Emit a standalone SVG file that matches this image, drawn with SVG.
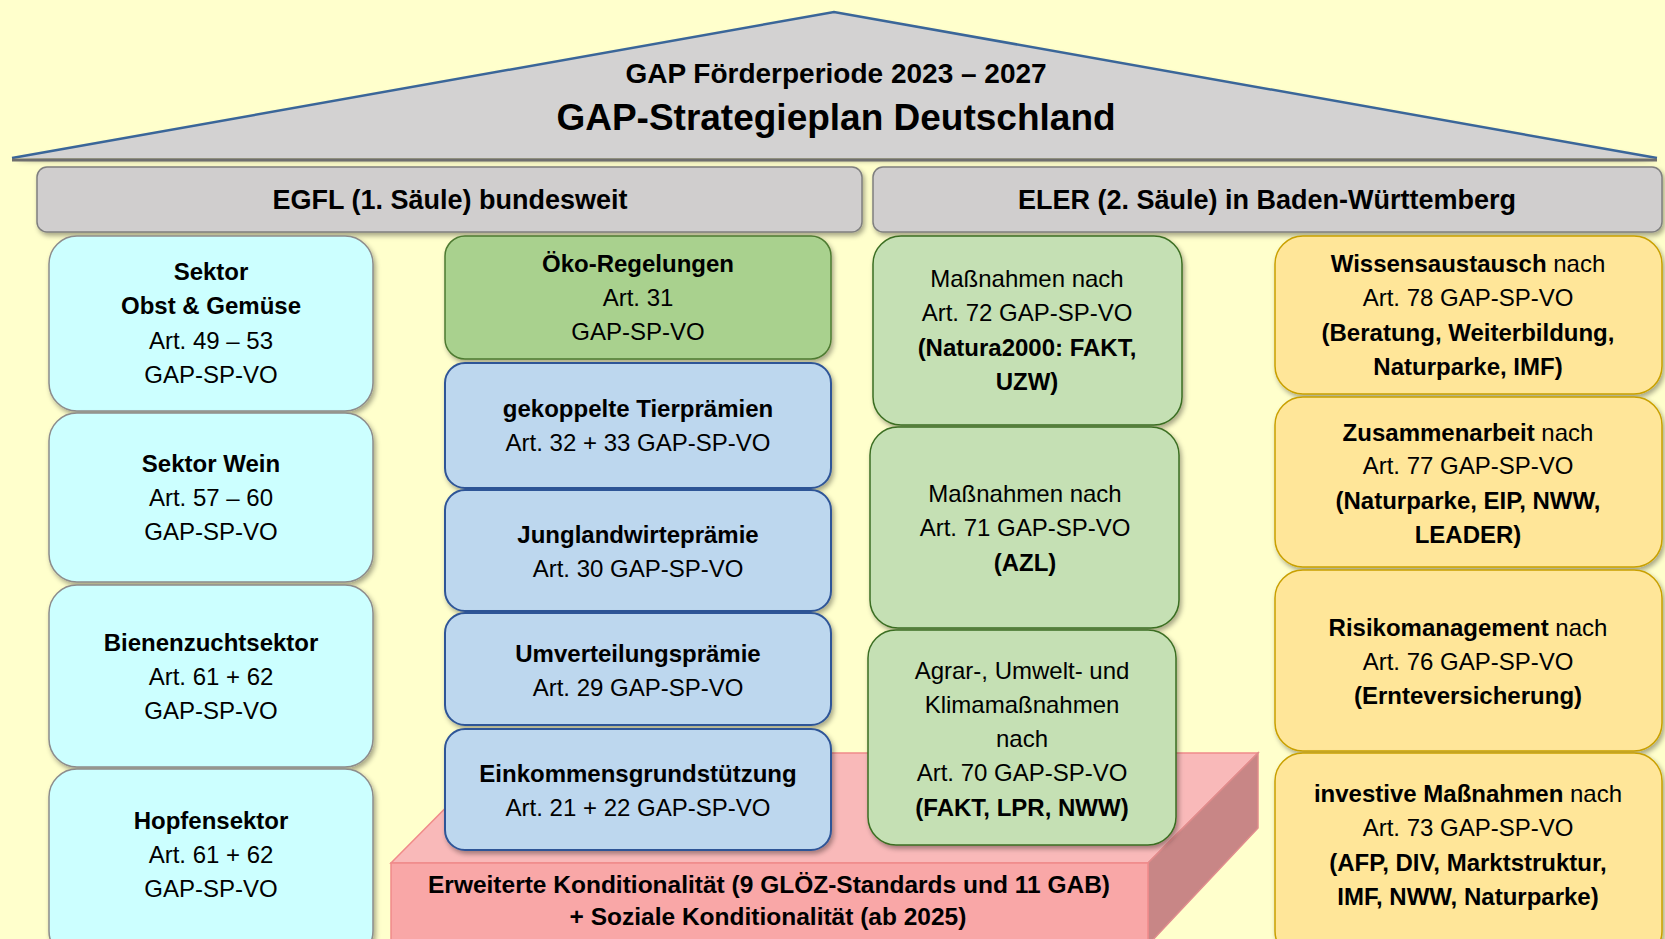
<svg xmlns="http://www.w3.org/2000/svg" width="1665" height="939" viewBox="0 0 1665 939">
<style>
text{font-family:"Liberation Sans",Arial,sans-serif;fill:#000;text-anchor:middle}
.r{font-size:24px}
.b{font-size:24px;font-weight:bold}
.bb{font-weight:bold}
.hdr{font-size:27px;font-weight:bold}
.slab{font-size:24.5px;font-weight:bold}
.cyan{fill:#CCFFFF;stroke:#8C8C8C;stroke-width:1.5}
.eco{fill:#A9D18E;stroke:#4E7A30;stroke-width:1.5}
.blue{fill:#BDD7EE;stroke:#2F5597;stroke-width:2}
.lg{fill:#C5E0B4;stroke:#3B6E22;stroke-width:1.5}
.yel{fill:#FFE699;stroke:#C9A000;stroke-width:1.5}
.gray{fill:#D0CECE;stroke:#7F7F7F;stroke-width:1.5}
</style>
<defs>
<filter id="sh" x="-10%" y="-10%" width="125%" height="130%">
<feDropShadow dx="2" dy="3" stdDeviation="2.5" flood-color="#000" flood-opacity="0.35"/>
</filter>
</defs>
<rect x="0" y="0" width="1665" height="939" fill="#FFFFCC"/>

<g id="roof">
<polygon points="12,158 834,12 1657,158" fill="#D3D2D2" filter="url(#sh)"/>
<polyline points="12,158 834,12 1657,158" fill="none" stroke="#3A6699" stroke-width="2.5"/>
<line x1="12" y1="160" x2="1657" y2="160" stroke="#6E6E6E" stroke-width="3"/>
<text x="836" y="83" style="font-size:28px;font-weight:bold">GAP Förderperiode 2023 – 2027</text>
<text x="836" y="130" style="font-size:37px;font-weight:bold">GAP-Strategieplan Deutschland</text>
</g>

<g id="egfl-header">
<rect class="gray" x="37" y="167" width="825" height="65" rx="10" filter="url(#sh)"/>
<text class="hdr" x="450" y="209">EGFL (1. Säule) bundesweit</text>
</g>
<g id="eler-header">
<rect class="gray" x="873" y="167" width="789" height="65" rx="10" filter="url(#sh)"/>
<text class="hdr" x="1267" y="209">ELER (2. Säule) in Baden-Württemberg</text>
</g>

<g id="slab">
<polygon points="391,863 1148,863 1258,753 500,753" fill="#F9B9B9" stroke="#F08A8A" stroke-width="1.5"/>
<polygon points="1148,863 1258,753 1258,828 1148,945" fill="#C88686" stroke="#E08C8C" stroke-width="1.5"/>
<rect x="391" y="863" width="757" height="82" fill="#F9A7A7" stroke="#F08A8A" stroke-width="1.5"/>
<text class="slab" x="769" y="893">Erweiterte Konditionalität (9 GLÖZ-Standards und 11 GAB)</text>
<text class="slab" x="768" y="925">+ Soziale Konditionalität (ab 2025)</text>
</g>

<g id="obst">
<rect class="cyan" x="49" y="236" width="324" height="175" rx="28" filter="url(#sh)"/>
<text class="b" x="211" y="280">Sektor</text>
<text class="b" x="211" y="314">Obst &amp; Gemüse</text>
<text class="r" x="211" y="349">Art. 49 – 53</text>
<text class="r" x="211" y="383">GAP-SP-VO</text>
</g>
<g id="wein">
<rect class="cyan" x="49" y="413" width="324" height="169" rx="28" filter="url(#sh)"/>
<text class="b" x="211" y="472">Sektor Wein</text>
<text class="r" x="211" y="506">Art. 57 – 60</text>
<text class="r" x="211" y="540">GAP-SP-VO</text>
</g>
<g id="biene">
<rect class="cyan" x="49" y="585" width="324" height="182" rx="28" filter="url(#sh)"/>
<text class="b" x="211" y="651">Bienenzuchtsektor</text>
<text class="r" x="211" y="685">Art. 61 + 62</text>
<text class="r" x="211" y="719">GAP-SP-VO</text>
</g>
<g id="hopfen">
<rect class="cyan" x="49" y="769" width="324" height="190" rx="28" filter="url(#sh)"/>
<text class="b" x="211" y="829">Hopfensektor</text>
<text class="r" x="211" y="863">Art. 61 + 62</text>
<text class="r" x="211" y="897">GAP-SP-VO</text>
</g>

<g id="oeko">
<rect class="eco" x="445" y="236" width="386" height="123" rx="20" filter="url(#sh)"/>
<text class="b" x="638" y="272">Öko-Regelungen</text>
<text class="r" x="638" y="306">Art. 31</text>
<text class="r" x="638" y="340">GAP-SP-VO</text>
</g>
<g id="tier">
<rect class="blue" x="445" y="363" width="386" height="125" rx="20" filter="url(#sh)"/>
<text class="b" x="638" y="417">gekoppelte Tierprämien</text>
<text class="r" x="638" y="451">Art. 32 + 33 GAP-SP-VO</text>
</g>
<g id="jung">
<rect class="blue" x="445" y="490" width="386" height="121" rx="20" filter="url(#sh)"/>
<text class="b" x="638" y="543">Junglandwirteprämie</text>
<text class="r" x="638" y="577">Art. 30 GAP-SP-VO</text>
</g>
<g id="umv">
<rect class="blue" x="445" y="613" width="386" height="112" rx="20" filter="url(#sh)"/>
<text class="b" x="638" y="662">Umverteilungsprämie</text>
<text class="r" x="638" y="696">Art. 29 GAP-SP-VO</text>
</g>
<g id="eink">
<rect class="blue" x="445" y="729" width="386" height="121" rx="20" filter="url(#sh)"/>
<text class="b" x="638" y="782">Einkommensgrundstützung</text>
<text class="r" x="638" y="816">Art. 21 + 22 GAP-SP-VO</text>
</g>

<g id="art72">
<rect class="lg" x="873" y="236" width="309" height="189" rx="28" filter="url(#sh)"/>
<text class="r" x="1027" y="287">Maßnahmen nach</text>
<text class="r" x="1027" y="321">Art. 72 GAP-SP-VO</text>
<text class="b" x="1027" y="356">(Natura2000: FAKT,</text>
<text class="b" x="1027" y="390">UZW)</text>
</g>
<g id="art71">
<rect class="lg" x="870" y="427" width="309" height="201" rx="28" filter="url(#sh)"/>
<text class="r" x="1025" y="502">Maßnahmen nach</text>
<text class="r" x="1025" y="536">Art. 71 GAP-SP-VO</text>
<text class="b" x="1025" y="571">(AZL)</text>
</g>
<g id="art70">
<rect class="lg" x="868" y="630" width="308" height="215" rx="28" filter="url(#sh)"/>
<text class="r" x="1022" y="679">Agrar-, Umwelt- und</text>
<text class="r" x="1022" y="713">Klimamaßnahmen</text>
<text class="r" x="1022" y="747">nach</text>
<text class="r" x="1022" y="781">Art. 70 GAP-SP-VO</text>
<text class="b" x="1022" y="816">(FAKT, LPR, NWW)</text>
</g>

<g id="wissen">
<rect class="yel" x="1275" y="236" width="387" height="158" rx="28" filter="url(#sh)"/>
<text class="r" x="1468" y="272"><tspan class="bb">Wissensaustausch</tspan> nach</text>
<text class="r" x="1468" y="306">Art. 78 GAP-SP-VO</text>
<text class="b" x="1468" y="341">(Beratung, Weiterbildung,</text>
<text class="b" x="1468" y="375">Naturparke, IMF)</text>
</g>
<g id="zusammen">
<rect class="yel" x="1275" y="397" width="387" height="170" rx="28" filter="url(#sh)"/>
<text class="r" x="1468" y="441"><tspan class="bb">Zusammenarbeit</tspan> nach</text>
<text class="r" x="1468" y="474">Art. 77 GAP-SP-VO</text>
<text class="b" x="1468" y="509">(Naturparke, EIP, NWW,</text>
<text class="b" x="1468" y="543">LEADER)</text>
</g>
<g id="risiko">
<rect class="yel" x="1275" y="570" width="387" height="181" rx="28" filter="url(#sh)"/>
<text class="r" x="1468" y="636"><tspan class="bb">Risikomanagement</tspan> nach</text>
<text class="r" x="1468" y="670">Art. 76 GAP-SP-VO</text>
<text class="b" x="1468" y="704">(Ernteversicherung)</text>
</g>
<g id="investiv">
<rect class="yel" x="1275" y="753" width="387" height="206" rx="28" filter="url(#sh)"/>
<text class="r" x="1468" y="802"><tspan class="bb">investive Maßnahmen</tspan> nach</text>
<text class="r" x="1468" y="836">Art. 73 GAP-SP-VO</text>
<text class="b" x="1468" y="871">(AFP, DIV, Marktstruktur,</text>
<text class="b" x="1468" y="905">IMF, NWW, Naturparke)</text>
</g>

<g id="connectors"></g>
</svg>
